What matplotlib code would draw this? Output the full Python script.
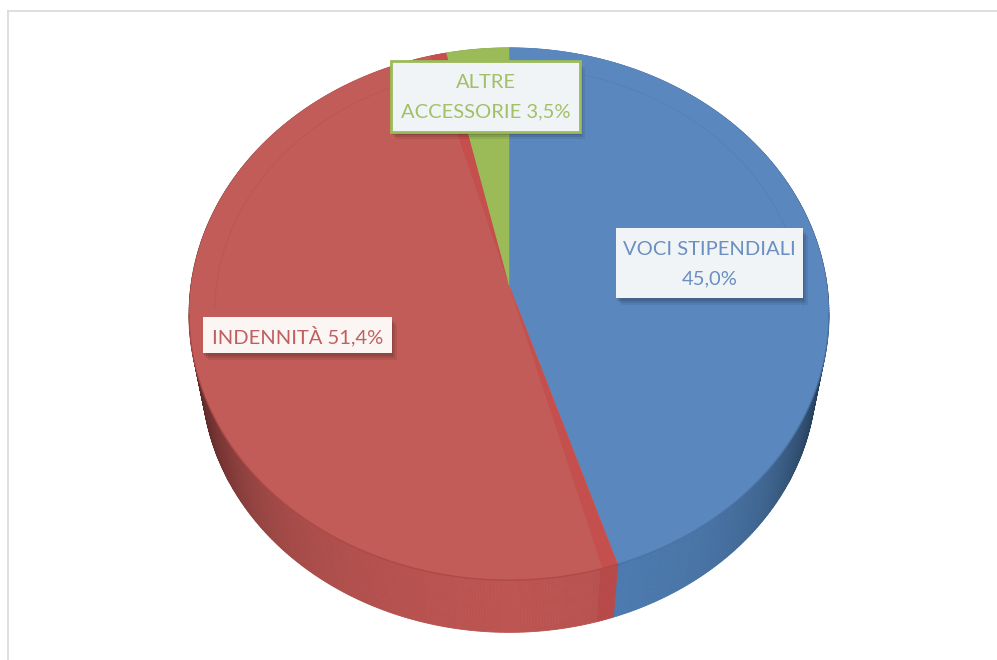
import numpy as np
import matplotlib
matplotlib.use("Agg")
import matplotlib.pyplot as plt
from matplotlib.patches import Rectangle, Polygon

# --- data ---
categories = ["VOCI STIPENDIALI", "INDENNITÀ", "ALTRE ACCESSORIE"]
values = [45.0, 51.4, 3.5]
labels = ["VOCI STIPENDIALI\n45,0%", "INDENNITÀ 51,4%", "ALTRE\nACCESSORIE 3,5%"]

# --- styles / layout ---
top_colors = ["#5b87bf", "#c25c58", "#9bbb59"]
wall_colors = ["#4f7fb6", "#bd5552", "#8aa850"]
text_colors = ["#6a8fc0", "#bf5f60", "#a3bf68"]
bevel_color = "#c44f4d"
label_boxes = [(616, 228, 187, 70), (203, 317, 189, 36), (391, 61, 189, 71)]
W, H = 997, 660
HUB = (509, 285); SX, SY, K = 318, 263, 0.109
HUB2 = (509, 349); S2 = 0.96

plt.rcParams["font.family"] = ["Lato", "DejaVu Sans"]
fig = plt.figure(figsize=(W / 100, H / 100), dpi=100, facecolor="white")
ax = fig.add_axes([0, 0, 1, 1])
ax.set_xlim(0, W); ax.set_ylim(H, 0); ax.axis("off")


def rim(theta, scale=1.0, hub=HUB):
    """theta: clockwise from 12 o'clock, radians -> perspective disc rim"""
    u, v = np.sin(theta), np.cos(theta)
    d = 1 + K * v
    return hub[0] + scale * SX * u / d, hub[1] - scale * SY * v / d


def shade(hex_color, f):
    rgb = np.array(matplotlib.colors.to_rgb(hex_color))
    return tuple(np.clip(rgb * f, 0, 1))


# frame
ax.plot([8, 8], [H, 11], color="#d9d9d9", lw=1.2)
ax.plot([8, W], [11, 11], color="#d9d9d9", lw=1.2)

shares = np.array(values) / np.sum(values) * 2 * np.pi
edges = np.concatenate([[0], np.cumsum(shares)])

# side walls
segs = []
for i in range(len(values)):
    ts = np.linspace(edges[i], edges[i + 1], max(int(np.degrees(shares[i]) * 2), 2))
    for a, b in zip(ts[:-1], ts[1:]):
        segs.append((i, a, b))
segs.sort(key=lambda s: rim((s[1] + s[2]) / 2)[1])
bevel = np.radians(2.6)
for i, a, b in segs:
    x1, y1 = rim(np.array([a, b]))
    x2, y2 = rim(np.array([b, a]), S2, HUB2)
    u = abs(np.sin((a + b) / 2))
    f = 1 - 0.5 * u ** 5 - 0.12 * u
    col = shade(wall_colors[i], f)
    if i == 1 and a < edges[1] + bevel:
        col = shade("#c5504e", 0.93)
    ax.add_patch(Polygon(np.c_[np.r_[x1, x2], np.r_[y1, y2]], fc=col, ec=col, lw=0.6, zorder=2))

# top faces
for i in range(len(values)):
    ts = np.linspace(edges[i], edges[i + 1], 200)
    x, y = rim(ts)
    ax.add_patch(Polygon(np.c_[np.r_[HUB[0], x], np.r_[HUB[1], y]], fc=top_colors[i],
                         ec=top_colors[i], lw=0.4, zorder=3))

# bevel strips on the red slice edges
for a, b in [(edges[1], edges[1] + bevel), (edges[2] - np.radians(3.2), edges[2])]:
    ts = np.linspace(a, b, 20)
    x, y = rim(ts)
    ax.add_patch(Polygon(np.c_[np.r_[HUB[0], x], np.r_[HUB[1], y]], fc=bevel_color,
                         ec="none", zorder=4))

# rim line and faint inner ring
for i, c in enumerate(["#46709f", "#a84644", "#7f9b48"]):
    ts = np.linspace(edges[i], edges[i + 1], 200)
    mask = np.cos(ts) < -0.1
    x, y = rim(ts)
    ax.plot(x[mask], y[mask], color=c, lw=1.0, alpha=0.8, zorder=5)
    x, y = rim(ts[~mask], 0.92)
    ax.plot(x, y, color="#000000", lw=0.8, alpha=0.045, zorder=5)

# labels
for (x, y, w, h), lab, tc, i in zip(label_boxes, labels, text_colors, range(3)):
    for off, al in [(7, 0.07), (5, 0.09), (3, 0.11)]:
        ax.add_patch(Rectangle((x + off - 2, y + off), w, h, fc="black", ec="none", alpha=al, zorder=6))
    ec = "#9bbb59" if i == 2 else "none"
    fc = "#f1f4f6" if i != 1 else "#fbf6f3"
    ax.add_patch(Rectangle((x, y), w, h, fc=fc, ec=ec, lw=2, zorder=7))
    ax.text(x + w / 2, y + h / 2 + 1, lab, ha="center", va="center", color=tc,
            fontsize=14.5, linespacing=1.9, zorder=8)

fig.savefig("out.png", dpi=100)
